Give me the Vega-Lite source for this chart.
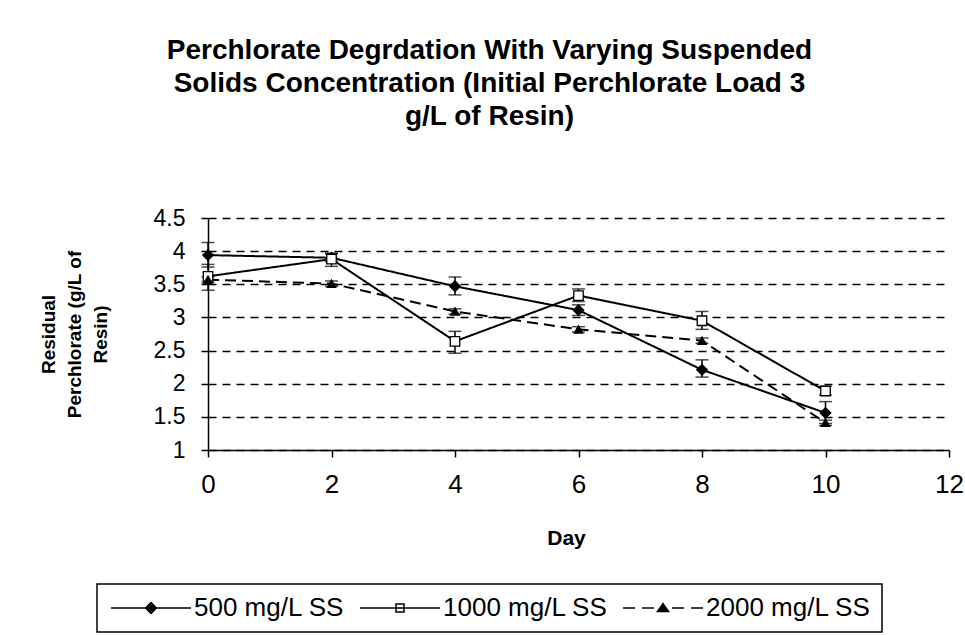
{
  "$schema": "https://vega.github.io/schema/vega-lite/v6.json",
  "width": 741,
  "height": 232,
  "autosize": {"type": "none"},
  "padding": {"left": 208, "top": 218, "right": 16, "bottom": 185},
  "background": "white",
  "title": {
    "text": ["Perchlorate Degrdation With Varying Suspended", "Solids Concentration (Initial Perchlorate Load 3", "g/L of Resin)"],
    "font": "Liberation Sans",
    "fontSize": 28,
    "fontWeight": "bold",
    "color": "black",
    "lineHeight": 33,
    "anchor": "middle",
    "frame": "group",
    "dx": -89,
    "offset": 76
  },
  "config": {
    "view": {"stroke": null},
    "legend": {"strokeWidth": 1.5}
  },
  "data": {
    "values": [
      {"series": "500 mg/L SS", "day": 0, "value": 3.94, "lo": 3.76, "hi": 4.13},
      {"series": "500 mg/L SS", "day": 2, "value": 3.90, "lo": 3.84, "hi": 3.96},
      {"series": "500 mg/L SS", "day": 4, "value": 3.47, "lo": 3.34, "hi": 3.61},
      {"series": "500 mg/L SS", "day": 6, "value": 3.11, "lo": 3.03, "hi": 3.19},
      {"series": "500 mg/L SS", "day": 8, "value": 2.21, "lo": 2.10, "hi": 2.36},
      {"series": "500 mg/L SS", "day": 10, "value": 1.56, "lo": 1.40, "hi": 1.73},
      {"series": "1000 mg/L SS", "day": 0, "value": 3.62, "lo": 3.41, "hi": 3.80},
      {"series": "1000 mg/L SS", "day": 2, "value": 3.88, "lo": 3.77, "hi": 3.97},
      {"series": "1000 mg/L SS", "day": 4, "value": 2.64, "lo": 2.46, "hi": 2.79},
      {"series": "1000 mg/L SS", "day": 6, "value": 3.33, "lo": 3.24, "hi": 3.43},
      {"series": "1000 mg/L SS", "day": 8, "value": 2.95, "lo": 2.82, "hi": 3.09},
      {"series": "1000 mg/L SS", "day": 10, "value": 1.89, "lo": 1.83, "hi": 1.96},
      {"series": "2000 mg/L SS", "day": 0, "value": 3.57, "lo": 3.53, "hi": 3.61},
      {"series": "2000 mg/L SS", "day": 2, "value": 3.51, "lo": 3.47, "hi": 3.55},
      {"series": "2000 mg/L SS", "day": 4, "value": 3.09, "lo": 3.05, "hi": 3.13},
      {"series": "2000 mg/L SS", "day": 6, "value": 2.82, "lo": 2.78, "hi": 2.86},
      {"series": "2000 mg/L SS", "day": 8, "value": 2.65, "lo": 2.61, "hi": 2.69},
      {"series": "2000 mg/L SS", "day": 10, "value": 1.41, "lo": 1.37, "hi": 1.45}
    ]
  },
  "encoding": {
    "x": {
      "field": "day",
      "type": "quantitative",
      "scale": {"domain": [0, 12], "nice": false, "zero": false},
      "axis": {
        "values": [0, 2, 4, 6, 8, 10, 12],
        "grid": false,
        "domainColor": "black",
        "domainWidth": 1.5,
        "tickColor": "black",
        "tickWidth": 1.5,
        "tickSize": 7,
        "labelFont": "Liberation Sans Narrow, Liberation Sans",
        "labelFontSize": 26,
        "labelColor": "black",
        "labelPadding": 14,
        "labelFlush": false,
        "title": "Day",
        "titleFont": "Liberation Sans",
        "titleFontSize": 21,
        "titleFontWeight": "bold",
        "titleColor": "black",
        "titlePadding": 30,
        "titleX": 358
      }
    },
    "y": {
      "field": "value",
      "type": "quantitative",
      "scale": {"domain": [1, 4.5], "nice": false, "zero": false},
      "axis": {
        "values": [1, 1.5, 2, 2.5, 3, 3.5, 4, 4.5],
        "format": "~g",
        "grid": true,
        "gridColor": "black",
        "gridDash": [8, 6],
        "gridWidth": 1.5,
        "domainColor": "black",
        "domainWidth": 1.5,
        "tickColor": "black",
        "tickWidth": 1.5,
        "tickSize": 7,
        "labelFont": "Liberation Sans",
        "labelFontSize": 23,
        "labelColor": "black",
        "labelPadding": 16,
        "labelFlush": false,
        "title": ["Residual", "Perchlorate (g/L of", "Resin)"],
        "titleFont": "Liberation Sans",
        "titleFontSize": 19,
        "titleFontWeight": "bold",
        "titleColor": "black",
        "titleLineHeight": 26,
        "titleX": -150
      }
    }
  },
  "layer": [
    {
      "mark": {"type": "line", "color": "black", "strokeWidth": 2},
      "encoding": {
        "detail": {"field": "series", "type": "nominal"},
        "strokeDash": {
          "field": "series",
          "type": "nominal",
          "scale": {"domain": ["500 mg/L SS", "1000 mg/L SS", "2000 mg/L SS"], "range": [[1, 0], [1, 0], [11, 6]]},
          "legend": null
        }
      }
    },
    {
      "mark": {"type": "rule", "color": "black", "strokeWidth": 1.5},
      "encoding": {
        "y": {"field": "lo", "type": "quantitative"},
        "y2": {"field": "hi"}
      }
    },
    {
      "mark": {"type": "tick", "color": "black", "orient": "horizontal", "size": 13, "thickness": 1.5},
      "encoding": {
        "y": {"field": "lo", "type": "quantitative"}
      }
    },
    {
      "mark": {"type": "tick", "color": "black", "orient": "horizontal", "size": 13, "thickness": 1.5},
      "encoding": {
        "y": {"field": "hi", "type": "quantitative"}
      }
    },
    {
      "mark": {"type": "point", "filled": true, "stroke": "black", "strokeWidth": 1.3, "opacity": 1},
      "encoding": {
        "shape": {
          "field": "series",
          "type": "nominal",
          "scale": {"domain": ["500 mg/L SS", "1000 mg/L SS", "2000 mg/L SS"], "range": ["diamond", "square", "triangle-up"]},
          "legend": null
        },
        "fill": {
          "field": "series",
          "type": "nominal",
          "scale": {"domain": ["500 mg/L SS", "1000 mg/L SS", "2000 mg/L SS"], "range": ["black", "white", "black"]},
          "legend": null
        },
        "size": {
          "field": "series",
          "type": "nominal",
          "scale": {"domain": ["500 mg/L SS", "1000 mg/L SS", "2000 mg/L SS"], "range": [110, 70, 100]},
          "legend": null
        }
      }
    },
    {
      "mark": {"type": "point", "filled": true, "opacity": 0, "stroke": "black", "strokeWidth": 1.8},
      "encoding": {
        "shape": {
          "field": "series",
          "type": "nominal",
          "scale": {
            "domain": ["500 mg/L SS", "1000 mg/L SS", "2000 mg/L SS"],
            "range": [
              "M-1,0H7M3,-0.55L3.55,0L3,0.55L2.45,0Z",
              "M-1,0H7M2.6,-0.4H3.4V0.4H2.6Z",
              "M-1,0H0.2M0.9,0H2.1M2.45,0.35L3,-0.45L3.55,0.35ZM3.9,0H5.1M5.8,0H7"
            ]
          },
          "legend": {
            "orient": "none",
            "legendX": -111,
            "legendY": 366,
            "direction": "horizontal",
            "columns": 3,
            "title": null,
            "symbolSize": 400,
            "symbolOpacity": 1,
            "labelFont": "Liberation Sans",
            "labelFontSize": 26,
            "labelColor": "black",
            "labelOffset": 60,
            "labelLimit": 0,
            "columnPadding": 12,
            "padding": 11,
            "strokeColor": "black",
            "fillColor": "white",
            "encode": {
              "symbols": {
                "update": {
                  "stroke": {"value": "black"},
                  "strokeWidth": {"value": 1.8},
                  "opacity": {"value": 1}
                }
              }
            }
          }
        },
        "fill": {
          "field": "series",
          "type": "nominal",
          "scale": {"domain": ["500 mg/L SS", "1000 mg/L SS", "2000 mg/L SS"], "range": ["black", "white", "black"]},
          "legend": {
            "orient": "none",
            "legendX": -111,
            "legendY": 366,
            "direction": "horizontal",
            "columns": 3,
            "title": null,
            "symbolSize": 400,
            "symbolOpacity": 1,
            "labelFont": "Liberation Sans",
            "labelFontSize": 26,
            "labelColor": "black",
            "labelOffset": 60,
            "labelLimit": 0,
            "columnPadding": 12,
            "padding": 11,
            "strokeColor": "black",
            "fillColor": "white",
            "encode": {
              "symbols": {
                "update": {
                  "stroke": {"value": "black"},
                  "strokeWidth": {"value": 1.8},
                  "opacity": {"value": 1}
                }
              }
            }
          }
        }
      }
    }
  ],
  "resolve": {"scale": {"shape": "independent", "fill": "independent", "size": "independent"}}
}
